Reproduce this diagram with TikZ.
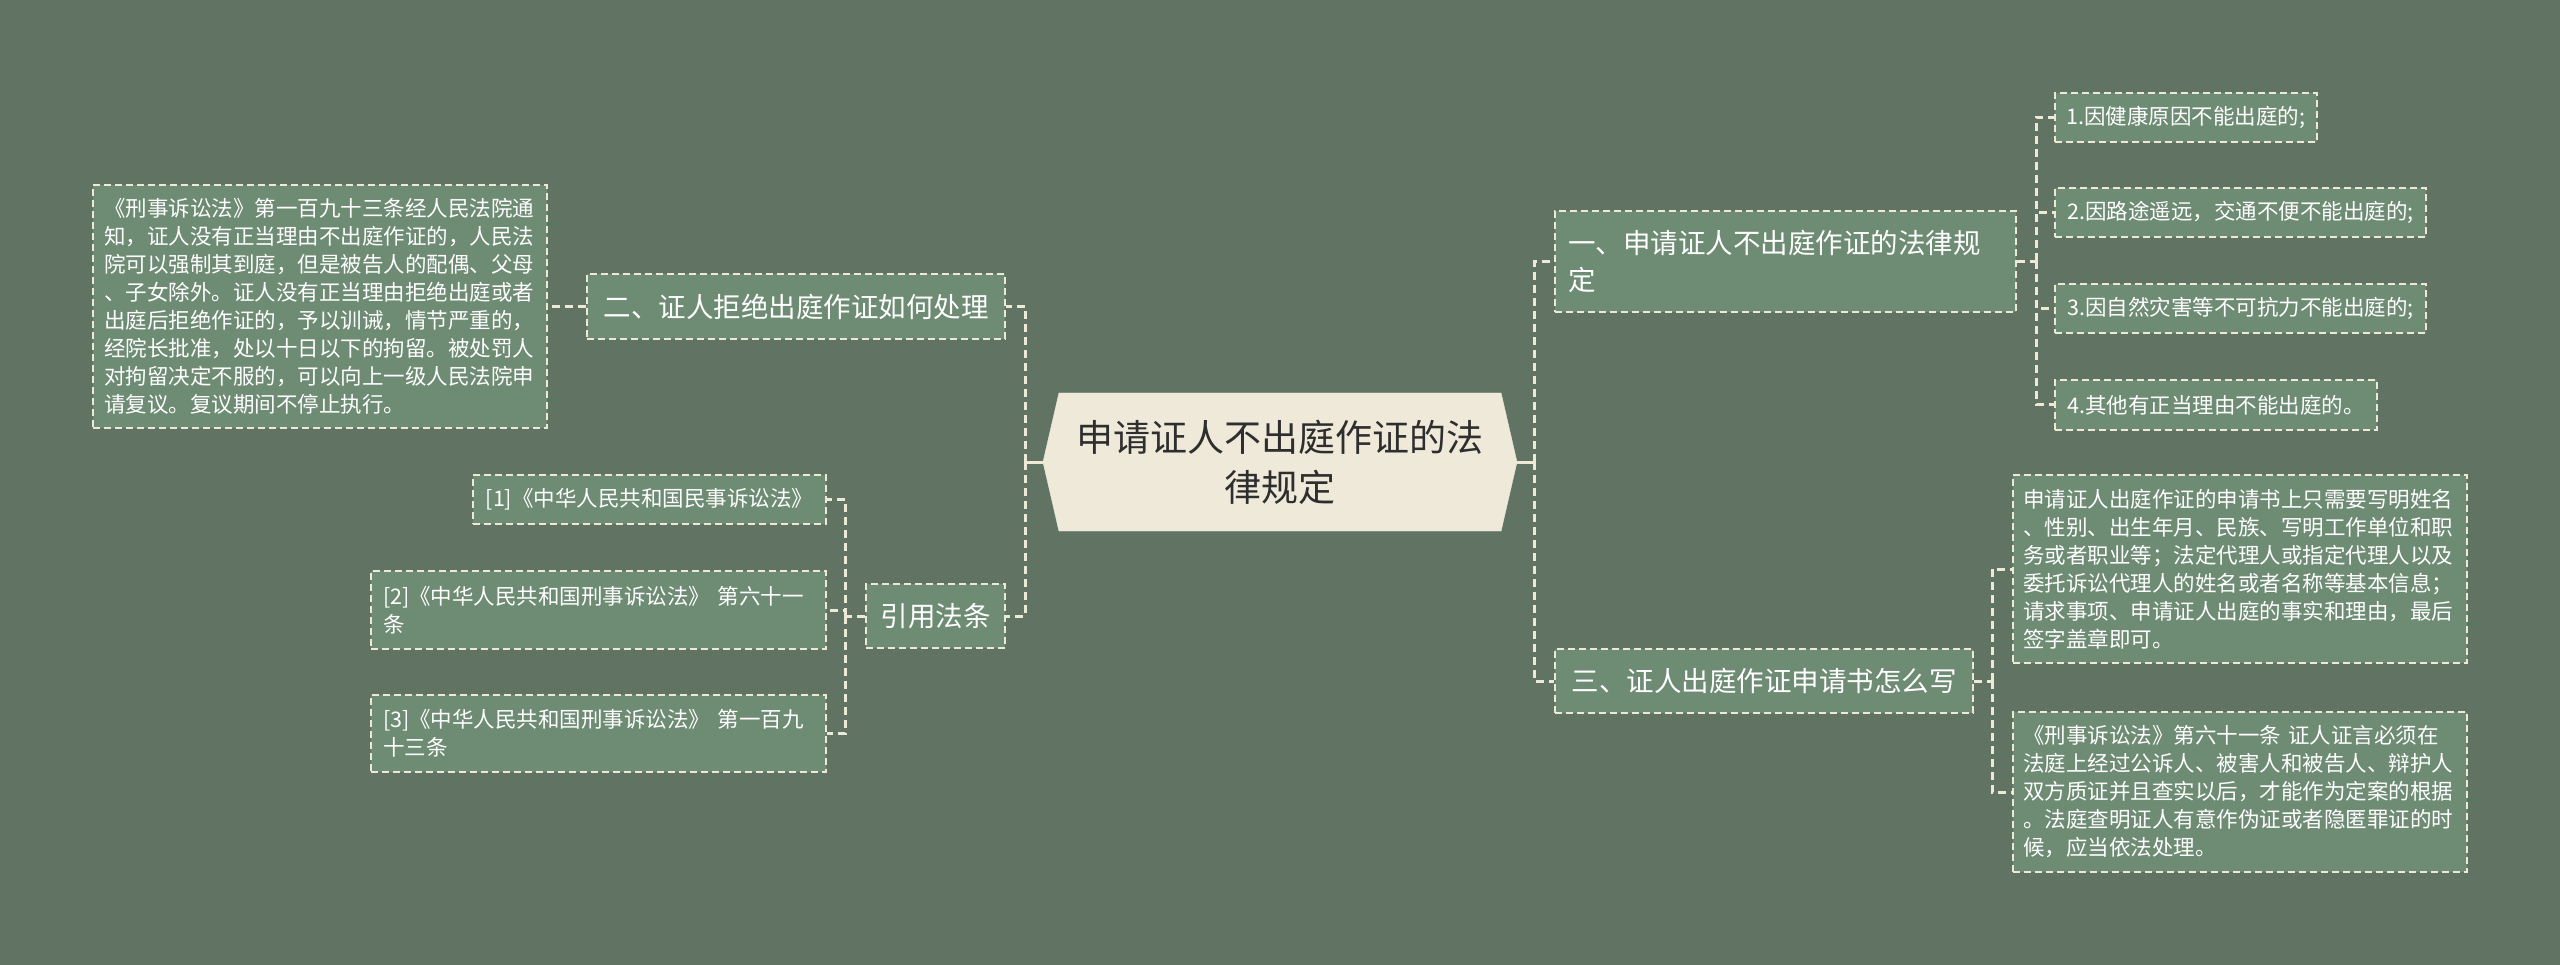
\documentclass[tikz,border=0pt]{standalone}
\usepackage{fontspec}
\newfontfamily\cjk{Noto Sans CJK SC}
\usetikzlibrary{shapes.symbols}
\definecolor{bgcol}{HTML}{617464}
\definecolor{boxcol}{HTML}{6E8B74}
\definecolor{linecol}{HTML}{EEE8D6}
\definecolor{titlecol}{HTML}{EFE9DA}
\definecolor{inkcol}{HTML}{2E2E2E}
\tikzset{
  topic/.style={draw=linecol,fill=boxcol,text=white,line width=2pt,dash pattern=on 7pt off 4pt,inner sep=0pt,font=\cjk\fontsize{27.5}{37}\selectfont},
  leaf/.style={draw=linecol,fill=boxcol,text=white,line width=2pt,dash pattern=on 7pt off 4pt,inner sep=0pt,font=\cjk\fontsize{21.5}{28}\selectfont},
  link/.style={draw=linecol,line width=3pt,dash pattern=on 8pt off 5pt},
  stub/.style={draw=linecol,line width=3pt}
}
\begin{document}
\begin{tikzpicture}[x=1pt,y=-1pt]
\fill[bgcol](0,0)rectangle(2560,965);
% centre
\node[signal,signal to=west and east,signal pointer angle=154,fill=titlecol,draw=titlecol,inner sep=0pt,minimum width=474,minimum height=138,text=inkcol,align=center,font=\cjk\fontsize{37}{50}\selectfont](title) at(1280,462){申请证人不出庭作证的法\\律规定};
% left side
\node[topic,minimum width=418,minimum height=65](two) at(796,306.5){二、证人拒绝出庭作证如何处理};
\node[leaf,minimum width=454,minimum height=243,text width=432,align=left](twotext) at(320,306.5){《刑事诉讼法》第一百九十三条经人民法院通\\知，证人没有正当理由不出庭作证的，人民法\\院可以强制其到庭，但是被告人的配偶、父母\\、子女除外。证人没有正当理由拒绝出庭或者\\出庭后拒绝作证的，予以训诫，情节严重的，\\经院长批准，处以十日以下的拘留。被处罚人\\对拘留决定不服的，可以向上一级人民法院申\\请复议。复议期间不停止执行。};
\node[topic,minimum width=139,minimum height=64](cite) at(935.5,616){引用法条};
\node[leaf,minimum width=353,minimum height=49](cite1) at(649.5,499.5){[1]《中华人民共和国民事诉讼法》};
\node[leaf,minimum width=455,minimum height=78,text width=431,align=left](cite2) at(598.5,610){[2]《中华人民共和国刑事诉讼法》 第六十一\\条};
\node[leaf,minimum width=455,minimum height=77,text width=431,align=left](cite3) at(598.5,733.5){[3]《中华人民共和国刑事诉讼法》 第一百九\\十三条};
% right side
\node[topic,minimum width=461,minimum height=101,text width=435,align=left](one) at(1785.5,261.5){一、申请证人不出庭作证的法律规\\定};
\node[leaf,minimum width=262,minimum height=49](one1) at(2186,117.5){1.因健康原因不能出庭的;};
\node[leaf,minimum width=371,minimum height=49](one2) at(2240.5,212.5){2.因路途遥远，交通不便不能出庭的;};
\node[leaf,minimum width=371,minimum height=49](one3) at(2240.5,308.5){3.因自然灾害等不可抗力不能出庭的;};
\node[leaf,minimum width=322,minimum height=50](one4) at(2216,405){4.其他有正当理由不能出庭的。};
\node[topic,minimum width=418,minimum height=64](three) at(1764,681){三、证人出庭作证申请书怎么写};
\node[leaf,minimum width=454,minimum height=188,text width=434,align=left](threea) at(2240,569){申请证人出庭作证的申请书上只需要写明姓名\\、性别、出生年月、民族、写明工作单位和职\\务或者职业等；法定代理人或指定代理人以及\\委托诉讼代理人的姓名或者名称等基本信息；\\请求事项、申请证人出庭的事实和理由，最后\\签字盖章即可。};
\node[leaf,minimum width=454,minimum height=160,text width=434,align=left](threeb) at(2240,792){《刑事诉讼法》第六十一条 证人证言必须在\\法庭上经过公诉人、被害人和被告人、辩护人\\双方质证并且查实以后，才能作为定案的根据\\。法庭查明证人有意作伪证或者隐匿罪证的时\\候，应当依法处理。};
% hubs
\coordinate(lhub) at(1025,462);
\coordinate(rhub) at(1534,462);
\coordinate(citehub) at(845,616);
\coordinate(onehub) at(2036,261.5);
\coordinate(threehub) at(1992,681);
% links
\draw[stub](title.west)--(lhub);
\draw[stub](title.east)--(rhub);
\draw[link](lhub)|-(two.east);
\draw[link](lhub)|-(cite.east);
\draw[link](two.west)--(twotext.east);
\draw[link](cite.west)--(citehub);
\draw[link](citehub)|-(cite1.east);
\draw[link](citehub)|-(cite2.east);
\draw[link](citehub)|-(cite3.east);
\draw[link](rhub)|-(one.west);
\draw[link](rhub)|-(three.west);
\draw[link](one.east)--(onehub);
\draw[link](onehub)|-(one1.west);
\draw[link](onehub)|-(one2.west);
\draw[link](onehub)|-(one3.west);
\draw[link](onehub)|-(one4.west);
\draw[link](three.east)--(threehub);
\draw[link](threehub)|-(threea.west);
\draw[link](threehub)|-(threeb.west);
\end{tikzpicture}
\end{document}
